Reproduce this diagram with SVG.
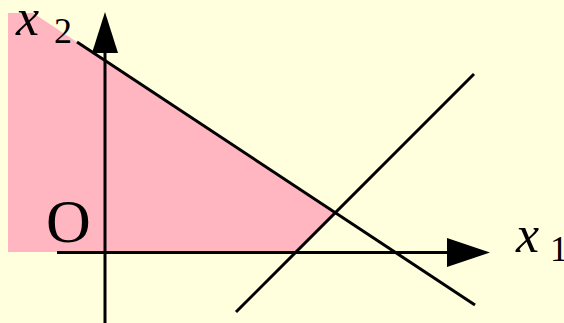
<svg xmlns="http://www.w3.org/2000/svg" width="564" height="323" viewBox="0 0 564 323">
<style>
.ln{stroke:#000;stroke-width:3;fill:none}
.it{font-family:"Liberation Serif",serif;font-style:italic;fill:#000}
.rm{font-family:"Liberation Serif",serif;fill:#000}
</style>
<rect width="564" height="323" fill="#FFFFDD"/>
<g id="region">
<polygon points="8,13 33,13 335.3,212.7 296,252 8,252" fill="#FFB6C1"/>
</g>
<g id="axes">
<line class="ln" x1="57" y1="252.5" x2="450" y2="252.5"/>
<polygon points="447,238 490,252.5 447,267" fill="#000"/>
<line class="ln" x1="105" y1="323" x2="105" y2="50"/>
<polygon points="92,53 105,12 118,53" fill="#000"/>
</g>
<g id="lines">
<line class="ln" x1="77" y1="42" x2="475" y2="305"/>
<line class="ln" x1="236" y1="312" x2="474" y2="74"/>
</g>
<g id="labels">
<text class="it" x="16" y="35" font-size="52">x</text>
<text class="rm" x="54" y="43" font-size="36">2</text>
<text class="rm" x="46" y="242" font-size="62">O</text>
<text class="it" x="516" y="252" font-size="52">x</text>
<text class="rm" x="550" y="261" font-size="36">1</text>
</g>
</svg>
